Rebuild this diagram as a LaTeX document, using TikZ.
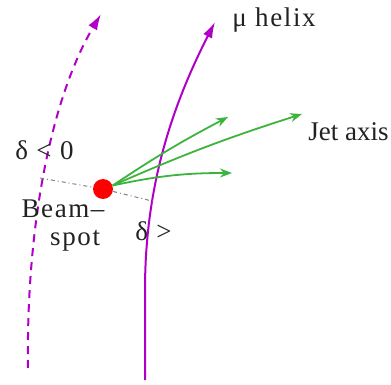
\documentclass[tikz,border=0pt]{standalone}
\usepackage{fontspec}
\setmainfont{Liberation Serif}
\newfontfamily\lblfont{Liberation Serif}[LetterSpace=6]
\usetikzlibrary{positioning, arrows.meta}
\definecolor{helix}{HTML}{B000C8}
\definecolor{jet}{HTML}{3CB43C}
\definecolor{beam}{HTML}{FF0000}
\definecolor{textmain}{HTML}{222222}
\definecolor{impact}{HTML}{808080}

\begin{document}
\begin{tikzpicture}[x=0.5pt, y=-0.5pt,
    track/.style={helix, line width=1pt, -{Latex[length=8pt,width=5pt]}},
    jetline/.style={jet, line width=0.9pt, -{Stealth[length=6pt,width=4.5pt]}},
    ip/.style={impact, line width=0.5pt, dash pattern=on 2pt off 1.5pt on 0.5pt off 1.5pt},
    spot/.style={circle, fill=beam, minimum size=10pt, inner sep=0pt},
    lbl/.style={text=textmain, font=\lblfont\fontsize{13.5}{15}\selectfont, inner sep=0pt, align=center}
  ]
    \useasboundingbox (0,0) rectangle (391,385);

    \node[spot] (bs) at (103,189) {};

    % muon helices
    \coordinate (hl0) at (28,368);
    \coordinate (hl1) at (101,14);
    \coordinate (hr0) at (145,380);
    \coordinate (hr1) at (145,290);
    \coordinate (hr2) at (215,22);
    \draw[track, dash pattern=on 4pt off 3pt] (hl0) .. controls (26,230) and (50,100) .. (hl1);
    \draw[track] (hr0) -- (hr1) .. controls (145,190) and (170,110) .. (hr2);

    % impact parameter
    \coordinate (dl) at (40,178);
    \coordinate (dr) at (156,202);
    \draw[ip] (dl) -- (bs);
    \draw[ip] (bs) -- (dr);

    % jet
    \coordinate (j1) at (228,117);
    \coordinate (j2) at (302,114);
    \coordinate (j3) at (232,173);
    \draw[jetline] (bs.20) to[bend left=3] (j1);
    \draw[jetline] (bs.20) to[bend left=3] (j2);
    \draw[jetline] (bs.20) to[bend left=6] (j3);

    \node[lbl, anchor=west] (mu) at (232,20) {μ helix};
    \node[lbl, anchor=east, font=\fontsize{13.5}{15}\selectfont] (ja) at (389,132) {Jet axis};
    \node[lbl, anchor=west] (dneg) at (15,150) {δ < 0};
    \node[lbl, anchor=west] (dpos) at (135,231) {δ >};
    \node[lbl] (bsl) at (63,226) {Beam–\\[-1pt]\hspace*{0.9em}spot};
  \end{tikzpicture}
\end{document}
